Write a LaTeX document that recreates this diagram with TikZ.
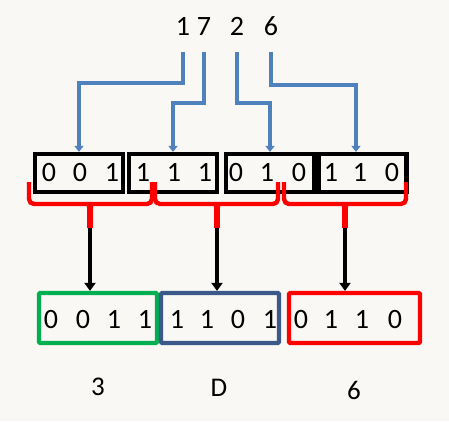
\documentclass[tikz,border=0pt]{standalone}
\usepackage{fontspec}
\setmainfont{Carlito}
\usetikzlibrary{arrows.meta}
\definecolor{bgc}{HTML}{F9F8F5}
\definecolor{bluearr}{HTML}{4F81BD}
\definecolor{boxgreen}{HTML}{00B050}
\definecolor{boxblue}{HTML}{3B5A8A}
\definecolor{boxred}{HTML}{FF0000}
\begin{document}
\begin{tikzpicture}[x=1pt,y=-1pt,
  dig/.style={anchor=base,inner sep=0pt,font=\fontsize{28}{30}\selectfont},
  lab/.style={anchor=base,inner sep=0pt,font=\fontsize{27}{30}\selectfont},
  topbox/.style={draw=black,line width=4.2pt,minimum width=88pt,minimum height=38pt,inner sep=0pt},
  botbox/.style={line width=4.2pt,minimum height=50pt,inner sep=0pt,rounded corners=1pt},
  barr/.style={draw=bluearr,line width=3.2pt,-{Triangle[width=9pt,length=6pt]}},
  karr/.style={draw=black,line width=3.5pt,-{Triangle[width=11pt,length=8pt]}},
  brace/.style={draw=boxred,line width=4.4pt,rounded corners=5pt}]
\fill[bgc] (0,0) rectangle (449,421);
\useasboundingbox (0,0) rectangle (449,421);
% top numbers
\node[dig] (t1) at (183,35) {1};
\node[dig] (t7) at (204,35) {7};
\node[dig] (t2) at (237,35) {2};
\node[dig] (t6) at (271,35) {6};
% top boxes
\node[topbox] (b1) at (79,173) {};
\node[topbox] (b2) at (173,173) {};
\node[topbox] (b3) at (270,173) {};
\node[topbox] (b4) at (362.5,173) {};
\foreach \x/\d [count=\i] in {49/0,80/0,112/1,143/1,174/1,205/1,236/0,267/1,299/0,331/1,360/1,392/0}
  \node[dig] (u\i) at (\x,181) {\d};
% blue arrows
\coordinate (s1) at (183,52);
\coordinate (s7) at (204,52);
\coordinate (s2) at (237,52);
\coordinate (s6) at (271,52);
\draw[barr] (s1) |- (79,83) -- (b1.north -| 79,0);
\draw[barr] (s7) |- (173,103) -- (b2.north -| 173,0);
\draw[barr] (s2) |- (270,103) -- (b3.north -| 270,0);
\draw[barr] (s6) |- (356,85) -- (b4.north -| 356,0);
% braces
\foreach \a/\m/\b [count=\i] in {29/90/152,155/217/278,284/345/406}{
  \draw[brace] (\a,182) |- (\m,204) -| (\b,182);
  \fill[boxred] (\m-8,202) .. controls (\m-2.5,203) .. (\m-3,228) -- (\m+3,228) .. controls (\m+2.5,203) .. (\m+8,202) -- cycle;
  \coordinate (tip\i) at (\m,228);
}
% bottom boxes
\node[botbox,draw=boxgreen,minimum width=118pt] (g) at (98,318) {};
\node[botbox,draw=boxblue,minimum width=118pt] (h) at (220,318) {};
\node[botbox,draw=boxred,minimum width=131pt] (r) at (354.5,318) {};
\foreach \x/\d [count=\i] in {51/0,83/0,114/1,145/1,177/1,207/1,238/0,270/1,301/0,331/1,362/1,395/0}
  \node[dig] (v\i) at (\x,328) {\d};
% black arrows
\draw[karr] (tip1) -- (g.north -| tip1);
\draw[karr] (tip2) -- (h.north -| tip2);
\draw[karr] (tip3) -- (r.north -| tip3);
% labels
\node[lab] (l3) at (98,395) {3};
\node[lab] (lD) at (219,396) {D};
\node[lab] (l6) at (354,399) {6};
\end{tikzpicture}
\end{document}
